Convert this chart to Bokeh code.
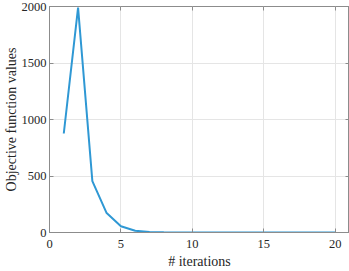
from bokeh.plotting import figure
from bokeh.models import Range1d, LinearAxis, FixedTicker
from bokeh.embed import file_html
from bokeh.resources import INLINE

iterations = list(range(1, 21))
objective = [876, 1990, 454, 172, 55, 15, 4, 1.5, 0.5, 0.2, 0.1, 0, 0, 0, 0, 0, 0, 0, 0, 0]
x_ticks = [0, 5, 10, 15, 20]
y_ticks = [0, 500, 1000, 1500, 2000]

FONT = "Liberation Serif"
AX = "#8c8c8c"

p = figure(width=349, height=271, output_backend="svg", toolbar_location=None,
           x_range=Range1d(0, 21), y_range=Range1d(0, 2000),
           min_border_left=0, min_border_right=0, min_border_top=6, min_border_bottom=0)
p.background_fill_color = "white"
p.border_fill_color = "white"
p.outline_line_color = AX
p.outline_line_width = 1

p.line(iterations, objective, line_color="#2f98d4", line_width=2)

for ax in (p.xaxis[0], p.yaxis[0]):
    ax.axis_line_color = AX
    ax.major_tick_line_color = AX
    ax.major_tick_in = 4
    ax.major_tick_out = 0
    ax.minor_tick_line_color = None
    ax.major_label_text_font = FONT
    ax.major_label_text_font_size = "12.5px"
    ax.major_label_text_color = "#262626"
    ax.axis_label_text_font = FONT
    ax.axis_label_text_font_size = "14px"
    ax.axis_label_text_font_style = "normal"
    ax.axis_label_text_color = "#262626"

p.xaxis.ticker = FixedTicker(ticks=x_ticks)
p.yaxis.ticker = FixedTicker(ticks=y_ticks)
p.xaxis.axis_label = "# iterations"
p.yaxis.axis_label = "Objective function values"
p.xaxis.major_label_standoff = 7
p.yaxis.major_label_standoff = 3
p.xaxis.axis_label_standoff = 3
p.yaxis.axis_label_standoff = 0

for loc, rng_ticks in (("above", x_ticks), ("right", y_ticks)):
    extra = LinearAxis(ticker=FixedTicker(ticks=rng_ticks))
    extra.axis_line_color = None
    extra.major_tick_line_color = AX
    extra.major_tick_in = 4
    extra.major_tick_out = 0
    extra.minor_tick_line_color = None
    extra.major_label_overrides = {t: "" for t in rng_ticks}
    extra.major_label_text_font_size = "1px"
    extra.major_label_standoff = 0
    p.add_layout(extra, loc)

p.xgrid.ticker = FixedTicker(ticks=x_ticks)
p.ygrid.ticker = FixedTicker(ticks=y_ticks)
p.grid.grid_line_color = "#e5e5e5"
p.grid.grid_line_width = 1

html = file_html(p, INLINE)
html = html.replace("<body>", '<body style="margin:0">', 1)
open("out.html", "w").write(html)
